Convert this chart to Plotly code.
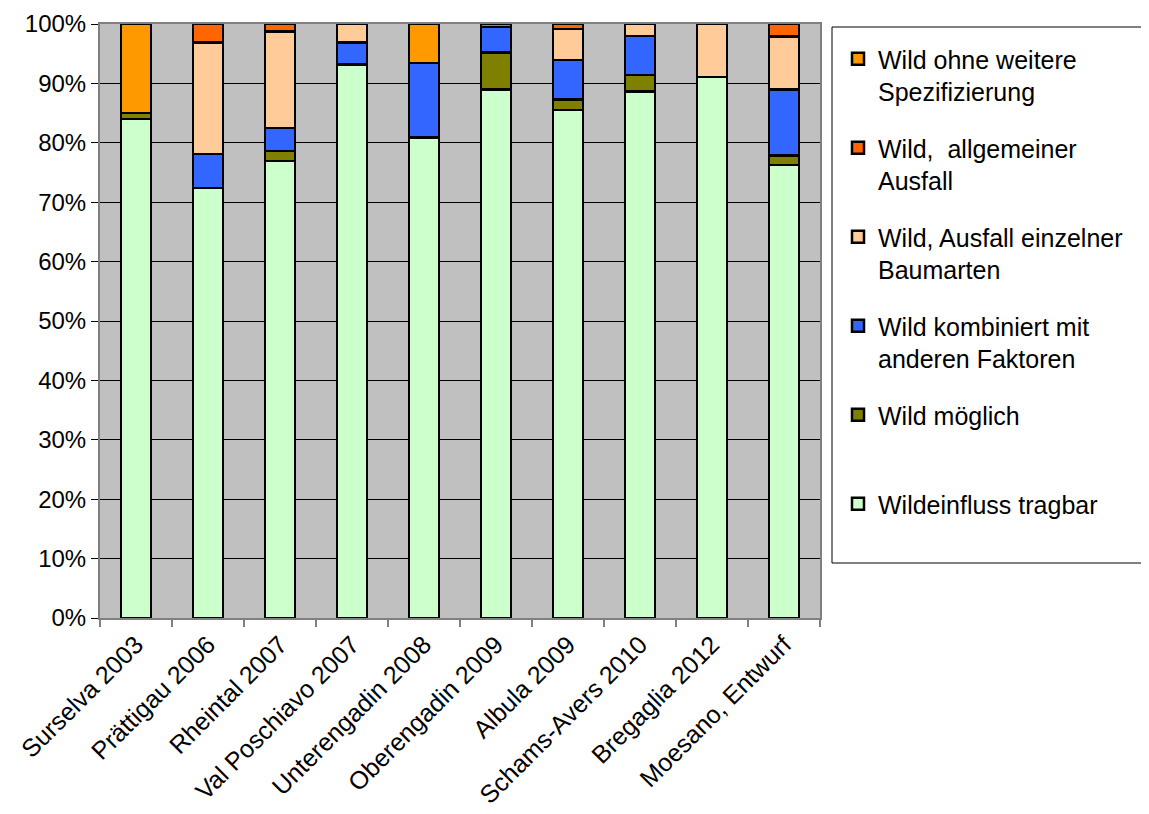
import plotly.graph_objects as go

categories = ["Surselva 2003", "Prättigau 2006", "Rheintal 2007", "Val Poschiavo 2007",
              "Unterengadin 2008", "Oberengadin 2009", "Albula 2009", "Schams-Avers 2010",
              "Bregaglia 2012", "Moesano, Entwurf"]

tragbar = [84.0, 72.4, 76.9, 93.2, 80.9, 89.0, 85.5, 88.6, 91.1, 76.3]
moeglich = [1.0, 0, 1.7, 0, 0, 6.2, 1.8, 2.8, 0, 1.6]
kombiniert = [0, 5.7, 3.9, 3.7, 12.5, 4.3, 6.6, 6.6, 0, 11.1]
einzelner = [0, 18.8, 16.2, 3.1, 0, 0, 5.3, 2.0, 8.9, 8.9]
allgemeiner = [0, 3.1, 1.3, 0, 0, 0.5, 0.8, 0, 0, 2.1]
ohne = [15.0, 0, 0, 0, 6.6, 0, 0, 0, 0, 0]

series = [
    ("Wildeinfluss tragbar<br>\u00a0", tragbar, "#CCFFCC"),
    ("Wild möglich<br>\u00a0", moeglich, "#808000"),
    ("Wild kombiniert mit<br>anderen Faktoren", kombiniert, "#3366FF"),
    ("Wild, Ausfall einzelner<br>Baumarten", einzelner, "#FFCC99"),
    ("Wild,  allgemeiner<br>Ausfall", allgemeiner, "#FF6600"),
    ("Wild ohne weitere<br>Spezifizierung", ohne, "#FF9900"),
]

FONT = "Liberation Sans, Arial, sans-serif"

fig = go.Figure()
n = len(series)
for i, (name, vals, col) in enumerate(series):
    fig.add_trace(go.Bar(
        x=categories, y=vals, name=name, legendgroup=f"g{i}",
        legendrank=100 * (n - i),
        marker=dict(color=col, line=dict(color="black", width=2.5)),
    ))

OFF = 8  # page body margin
W, H = 1149 - OFF, 814 - OFF
# plot area in page coordinates: x 100..820, y 24..618
L = 100 - OFF
T = 24 - OFF
R = W - (820 - OFF)
B = H - (618 - OFF)
pw, ph = W - L - R, H - T - B

def px(x):
    return (x - OFF - L) / pw

def py(y):
    return (H - B - (y - OFF)) / ph

fig.add_shape(type="rect", xref="paper", yref="paper",
              x0=px(832), x1=px(1148), y0=py(563), y1=py(27),
              line=dict(color="black", width=1), fillcolor="white", layer="below")

fig.update_layout(
    width=W, height=H,
    margin=dict(l=L, r=R, t=T, b=B, autoexpand=False),
    barmode="stack", bargap=0.58,
    paper_bgcolor="white", plot_bgcolor="#C0C0C0",
    font=dict(family=FONT, size=24, color="black"),
    showlegend=True,
    legend=dict(
        x=px(838), y=py(36), xanchor="left", yanchor="top",
        bgcolor="rgba(0,0,0,0)", borderwidth=0,
        traceorder="grouped", tracegroupgap=21,
        valign="top", font=dict(family=FONT, size=25, color="black"),
    ),
    xaxis=dict(
        tickangle=-45, tickson="boundaries", ticks="outside", ticklen=7,
        tickcolor="#808080", tickwidth=1.5, automargin=False,
        showline=True, linecolor="#808080", linewidth=2, mirror=True,
        tickfont=dict(family=FONT, size=25, color="black"),
    ),
    yaxis=dict(
        range=[0, 100], dtick=10, ticksuffix="%", ticks="outside", ticklen=7,
        tickcolor="black", tickwidth=1, automargin=False,
        showgrid=True, gridcolor="black", gridwidth=1,
        showline=True, linecolor="#808080", linewidth=2, mirror=True,
        tickfont=dict(family=FONT, size=24, color="black"),
        zeroline=False,
    ),
)

fig.write_html("out.html")
